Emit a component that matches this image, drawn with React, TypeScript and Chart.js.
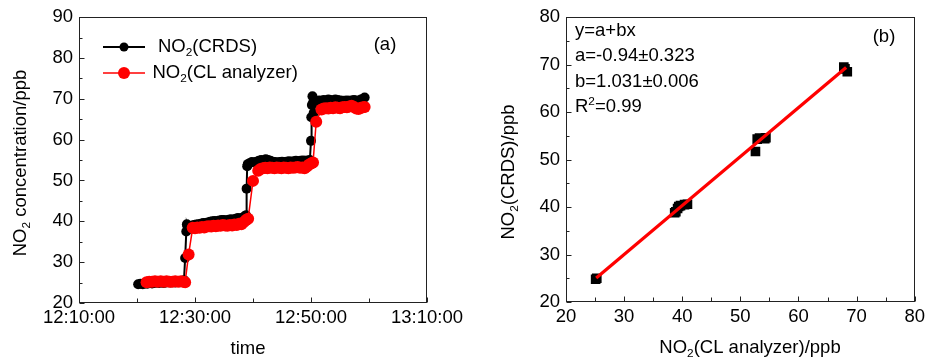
import React, { useEffect, useRef } from 'react';
import { Chart, registerables } from 'chart.js';
Chart.register(...registerables);

const FONT = '"Liberation Sans", Arial, Helvetica, sans-serif';
const FS = 18.5;

// ---------- Panel (a): time series (minutes after 12:00) ----------
const crdsTime = [
  20.2, 20.6, 21.0, 21.4, 21.8, 22.2, 22.6, 23.0, 23.4, 23.8, 24.2, 24.6, 25.0, 25.4, 25.8, 26.2, 26.6, 27.0, 27.4, 27.8, 28.1,
  28.3, 28.5, 28.6,
  28.7, 29.0, 29.4, 29.8, 30.2, 30.6, 31.0, 31.4, 31.8, 32.2, 32.6, 33.0, 33.4, 33.8, 34.2, 34.6, 35.0, 35.4, 35.8, 36.2, 36.6, 37.0, 37.4, 37.8, 38.2, 38.6, 38.8,
  38.9, 39.0,
  39.1, 39.4, 39.8, 40.2, 40.6, 41.0, 41.4, 41.8, 42.2, 42.6, 43.0, 43.4, 43.8, 44.2, 44.6, 45.0, 45.4, 45.8, 46.2, 46.6, 47.0, 47.4, 47.8, 48.2, 48.6, 49.0, 49.4, 49.8,
  50.0, 50.05, 50.15, 50.25, 50.35, 50.45,
  50.6, 51.0, 51.4, 51.8, 52.2, 52.6, 53.0, 53.4, 53.8, 54.2, 54.6, 55.0, 55.4, 55.8, 56.2, 56.6, 57.0, 57.4, 57.8, 58.2, 58.6, 59.0, 59.25,
];
const crdsValue = [
  24.6, 24.7, 24.6, 24.8, 24.7, 24.9, 24.8, 24.9, 25.0, 24.9, 25.0, 24.9, 25.0, 25.1, 25.0, 25.1, 25.0, 25.2, 25.1, 25.3, 25.6,
  31.0, 37.5, 39.3,
  38.8, 38.7, 38.9, 39.1, 39.2, 39.3, 39.4, 39.6, 39.6, 39.7, 39.9, 40.0, 40.1, 40.0, 40.2, 40.3, 40.3, 40.2, 40.4, 40.5, 40.4, 40.6, 40.8, 40.7, 40.9, 41.3, 41.5,
  48.0, 53.5,
  54.0, 54.2, 54.5, 54.4, 54.6, 54.8, 55.0, 54.9, 55.2, 55.0, 54.8, 54.6, 54.5, 54.4, 54.5, 54.6, 54.5, 54.6, 54.7, 54.6, 54.7, 54.8, 54.7, 54.8, 54.9, 54.8, 54.9, 55.0,
  59.7, 65.5, 68.5, 70.6, 69.0, 66.5,
  69.3, 69.4, 69.6, 69.5, 69.7, 69.6, 69.8, 69.7, 69.6, 69.8, 69.7, 69.6, 69.5, 69.5, 69.6, 69.5, 69.6, 69.7, 69.6, 69.5, 69.8, 70.0, 70.3,
];
const clTime = [
  21.65, 22.1, 22.6, 23.1, 23.6, 24.1, 24.6, 25.1, 25.6, 26.1, 26.6, 27.1, 27.6, 28.0, 28.3,
  28.9,
  29.6, 30.0, 30.4, 30.8, 31.2, 31.6, 32.0, 32.4, 32.8, 33.2, 33.6, 34.0, 34.4, 34.8, 35.2, 35.6, 36.0, 36.4, 36.8, 37.2, 37.6, 38.0, 38.4, 38.8, 39.16,
  40.0,
  40.9, 41.3, 41.7, 42.1, 42.5, 42.9, 43.3, 43.7, 44.1, 44.5, 44.9, 45.3, 45.7, 46.1, 46.5, 46.9, 47.3, 47.7, 48.1, 48.5, 48.9, 49.3, 49.7, 50.1, 50.35,
  50.9,
  51.8, 52.2, 52.6, 53.0, 53.4, 53.8, 54.2, 54.6, 55.0, 55.4, 55.8, 56.2, 56.6, 57.0, 57.4, 57.8, 58.2, 58.6, 59.0, 59.25,
];
const clValue = [
  25.1, 25.2, 25.2, 25.3, 25.2, 25.3, 25.2, 25.3, 25.2, 25.2, 25.3, 25.2, 25.3, 25.2, 25.1,
  31.9,
  38.4, 38.3, 38.5, 38.4, 38.6, 38.5, 38.7, 38.8, 38.7, 38.9, 38.8, 39.0, 38.9, 39.1, 39.0, 38.9, 39.1, 39.0, 39.2, 39.1, 39.4, 39.3, 39.8, 40.3, 40.6,
  49.9,
  52.4, 52.8, 53.0, 53.1, 53.0, 53.2, 53.1, 53.0, 53.2, 53.1, 53.0, 53.2, 53.1, 53.0, 53.2, 53.1, 53.2, 53.3, 53.1, 53.2, 53.0, 53.4, 53.9, 54.2, 54.4,
  64.4,
  67.4, 67.6, 67.7, 67.6, 67.8, 67.7, 67.9, 67.8, 67.7, 67.9, 68.0, 67.9, 68.1, 68.3, 68.0, 67.6, 67.5, 67.8, 67.9, 68.0,
];

// ---------- Panel (b): correlation ----------
const scatterCL = [25.1, 25.3, 38.7, 38.9, 39.2, 39.4, 39.7, 40.4, 40.9, 52.6, 52.9, 53.3, 54.2, 54.4, 67.8, 68.0, 68.4];
const scatterCRDS = [24.8, 25.0, 38.8, 39.0, 39.7, 40.1, 40.3, 40.5, 40.6, 51.7, 54.3, 54.5, 54.4, 54.6, 69.5, 69.1, 68.5];
const fitA = -0.94;
const fitB = 1.031;
const fitRange = [25.2, 68.2];

// ---------- Texts ([text, mode] mode: 0 normal, 1 subscript, 2 superscript) ----------
type Part = [string, number];
const legendCRDS: Part[] = [['NO', 0], ['2', 1], ['(CRDS)', 0]];
const legendCL: Part[] = [['NO', 0], ['2', 1], ['(CL analyzer)', 0]];
const yTitleA: Part[] = [['NO', 0], ['2', 1], [' concentration/ppb', 0]];
const xTitleA: Part[] = [['time', 0]];
const yTitleB: Part[] = [['NO', 0], ['2', 1], ['(CRDS)/ppb', 0]];
const xTitleB: Part[] = [['NO', 0], ['2', 1], ['(CL analyzer)/ppb', 0]];
const fitLines: Part[][] = [
  [['y=a+bx', 0]],
  [['a=-0.94\u00B10.323', 0]],
  [['b=1.031\u00B10.006', 0]],
  [['R', 0], ['2', 2], ['=0.99', 0]],
];

function rich(ctx: CanvasRenderingContext2D, parts: Part[], x: number, y: number, align: string, rot = false, size = FS) {
  ctx.save();
  ctx.translate(x, y);
  if (rot) ctx.rotate(-Math.PI / 2);
  ctx.fillStyle = '#000';
  ctx.textBaseline = 'middle';
  ctx.textAlign = 'left';
  const big = `${size}px ${FONT}`;
  const small = `${size * 0.64}px ${FONT}`;
  const widths = parts.map(([t, m]) => { ctx.font = m ? small : big; return ctx.measureText(t).width; });
  const total = widths.reduce((s, w) => s + w, 0);
  let cx = align === 'center' ? -total / 2 : 0;
  parts.forEach(([t, m], i) => {
    ctx.font = m ? small : big;
    const dy = m === 1 ? size * 0.3 : m === 2 ? -size * 0.3 : 0;
    ctx.fillText(t, cx, dy);
    cx += widths[i];
  });
  ctx.restore();
}

function frameTicks(chart: any) {
  const { ctx, chartArea: a } = chart;
  const xs = chart.scales.x;
  const ys = chart.scales.y;
  ctx.save();
  ctx.strokeStyle = '#222';
  ctx.lineWidth = 1;
  const L = Math.round(a.left) + 0.5, T = Math.round(a.top) + 0.5, R = Math.round(a.right) - 0.5, B = Math.round(a.bottom) - 0.5;
  ctx.strokeRect(L, T, R - L, B - T);
  ctx.beginPath();
  const xv = xs.ticks.map((t: any) => t.value);
  xv.forEach((v: number, i: number) => {
    const p = Math.round(xs.getPixelForValue(v)) + 0.5;
    ctx.moveTo(p, B); ctx.lineTo(p, B - 5);
    if (i < xv.length - 1) {
      const q = Math.round(xs.getPixelForValue((v + xv[i + 1]) / 2)) + 0.5;
      ctx.moveTo(q, B); ctx.lineTo(q, B - 4);
    }
  });
  const yv = ys.ticks.map((t: any) => t.value);
  yv.forEach((v: number, i: number) => {
    const p = Math.round(ys.getPixelForValue(v)) + 0.5;
    ctx.moveTo(L, p); ctx.lineTo(L + 5, p);
    if (i < yv.length - 1) {
      const q = Math.round(ys.getPixelForValue((v + yv[i + 1]) / 2)) + 0.5;
      ctx.moveTo(L, q); ctx.lineTo(L + 3, q);
    }
  });
  ctx.stroke();
  ctx.restore();
}

const tickFont = { family: FONT, size: FS };
const timeLabel = (v: any) => {
  const m = Number(v);
  const h = 12 + Math.floor(m / 60);
  const mm = m % 60;
  return `${h}:${String(mm).padStart(2, '0')}:00`;
};

function makeA(canvas: HTMLCanvasElement) {
  const decor = {
    id: 'decorA',
    afterDraw(chart: any) {
      const ctx = chart.ctx as CanvasRenderingContext2D;
      frameTicks(chart);
      rich(ctx, yTitleA, 21, 163, 'center', true);
      rich(ctx, xTitleA, 248, 349, 'center');
      rich(ctx, [['(a)', 0]], 385, 45, 'center');
      // legend
      const items = [
        { y: 47, color: '#000000', lw: 2, r: 4.5, parts: legendCRDS, tx: 158 },
        { y: 73, color: '#ff0000', lw: 1.5, r: 6, parts: legendCL, tx: 152.5 },
      ];
      items.forEach((it) => {
        ctx.save();
        ctx.strokeStyle = it.color;
        ctx.lineWidth = it.lw;
        ctx.beginPath();
        ctx.moveTo(103, it.y); ctx.lineTo(145, it.y);
        ctx.stroke();
        ctx.fillStyle = it.color;
        ctx.beginPath();
        ctx.arc(124, it.y, it.r, 0, Math.PI * 2);
        ctx.fill();
        ctx.restore();
        rich(ctx, it.parts, it.tx, it.y, 'left');
      });
    },
  };
  return new Chart(canvas, {
    type: 'scatter',
    data: {
      datasets: [
        {
          label: 'CL',
          data: clTime.map((t, i) => ({ x: t, y: clValue[i] })),
          showLine: true,
          borderColor: '#ff0000',
          backgroundColor: '#ff0000',
          borderWidth: 1.5,
          pointRadius: 6,
          pointBorderWidth: 0,
          order: 0,
        },
        {
          label: 'CRDS',
          data: crdsTime.map((t, i) => ({ x: t, y: crdsValue[i] })),
          showLine: true,
          borderColor: '#000000',
          backgroundColor: '#000000',
          borderWidth: 2,
          pointRadius: 5,
          pointBorderWidth: 0,
          order: 1,
        },
      ],
    },
    options: {
      responsive: false,
      animation: false,
      devicePixelRatio: 1,
      events: [],
      layout: { padding: { left: 0, top: 16, right: 43, bottom: 0 } },
      plugins: { legend: { display: false }, tooltip: { enabled: false } },
      scales: {
        x: {
          type: 'linear',
          min: 10,
          max: 70,
          grid: { display: false, drawTicks: false },
          border: { display: false },
          ticks: { stepSize: 20, autoSkip: false, maxRotation: 0, padding: 4, color: '#000', font: tickFont, callback: timeLabel },
          afterFit: (s: any) => { s.height = 58; },
        },
        y: {
          min: 20,
          max: 90,
          grid: { display: false, drawTicks: false },
          border: { display: false },
          ticks: { stepSize: 10, padding: 6, color: '#000', font: tickFont },
          afterFit: (s: any) => { s.width = 79; },
        },
      },
    },
    plugins: [decor],
  } as any);
}

function makeB(canvas: HTMLCanvasElement) {
  const decor = {
    id: 'decorB',
    afterDraw(chart: any) {
      const ctx = chart.ctx as CanvasRenderingContext2D;
      frameTicks(chart);
      rich(ctx, yTitleB, 39, 172, 'center', true);
      rich(ctx, xTitleB, 280, 348, 'center');
      rich(ctx, [['(b)', 0]], 414, 37, 'center');
      fitLines.forEach((p, i) => rich(ctx, p, 105, 31 + i * 25.3, 'left'));
    },
  };
  return new Chart(canvas, {
    type: 'scatter',
    data: {
      datasets: [
        {
          label: 'fit',
          data: fitRange.map((x) => ({ x, y: fitA + fitB * x })),
          showLine: true,
          borderColor: '#ff0000',
          borderWidth: 3.2,
          pointRadius: 0,
          order: 0,
        },
        {
          label: 'pts',
          data: scatterCL.map((x, i) => ({ x, y: scatterCRDS[i] })),
          pointStyle: 'rect',
          pointRadius: 6.8,
          pointBorderWidth: 0,
          backgroundColor: '#000000',
          borderColor: '#000000',
          order: 1,
        },
      ],
    },
    options: {
      responsive: false,
      animation: false,
      devicePixelRatio: 1,
      events: [],
      layout: { padding: { left: 0, top: 15, right: 12, bottom: 0 } },
      plugins: { legend: { display: false }, tooltip: { enabled: false } },
      scales: {
        x: {
          type: 'linear',
          min: 20,
          max: 80,
          grid: { display: false, drawTicks: false },
          border: { display: false },
          ticks: { stepSize: 10, autoSkip: false, maxRotation: 0, padding: 4, color: '#000', font: tickFont },
          afterFit: (s: any) => { s.height = 59; },
        },
        y: {
          min: 20,
          max: 80,
          grid: { display: false, drawTicks: false },
          border: { display: false },
          ticks: { stepSize: 10, padding: 6, color: '#000', font: tickFont },
          afterFit: (s: any) => { s.width = 96; },
        },
      },
    },
    plugins: [decor],
  } as any);
}

export default function App() {
  const refA = useRef<HTMLCanvasElement>(null);
  const refB = useRef<HTMLCanvasElement>(null);
  useEffect(() => {
    const a = makeA(refA.current!);
    const b = makeB(refB.current!);
    return () => { a.destroy(); b.destroy(); };
  }, []);
  return (
    <div style={{ position: 'fixed', left: 0, top: 0, width: 929, height: 361, background: '#fff' }}>
      <canvas ref={refA} width={470} height={361} style={{ position: 'absolute', left: 0, top: 0, width: 470, height: 361 }} />
      <canvas ref={refB} width={459} height={361} style={{ position: 'absolute', left: 470, top: 0, width: 459, height: 361 }} />
    </div>
  );
}
